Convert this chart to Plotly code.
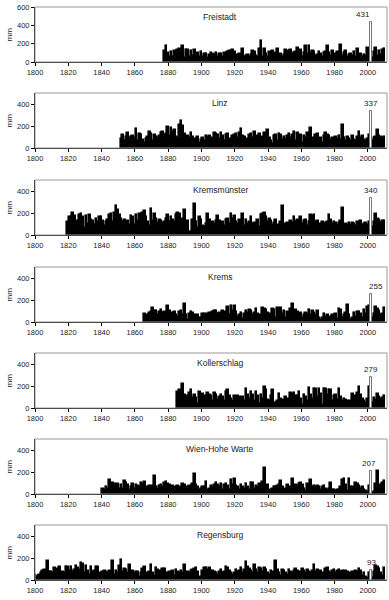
import plotly.graph_objects as go

stations = ["Freistadt", "Linz", "Kremsmünster", "Krems", "Kollerschlag", "Wien-Hohe Warte", "Regensburg"]
start_years = [1878, 1852, 1820, 1866, 1886, 1841, 1800]
highlight_year = 2002
y_max = [600, 500, 500, 500, 500, 500, 500]

freistadt = [120, 170,
    100, 60, 110, 50, 120, 80, 130, 140, 60, 180,
    40, 130, 130, 60, 120, 70, 130, 90, 100, 60,
    110, 50, 90, 90, 40, 80, 100, 90, 80, 100,
    60, 90, 90, 50, 100, 80, 110, 120, 60, 130,
    110, 50, 80, 90, 60, 140, 60, 70, 80, 60,
    80, 120, 110, 70, 50, 140, 230, 60, 140, 90,
    50, 110, 80, 120, 60, 100, 140, 60, 90, 50,
    80, 130, 120, 60, 130, 100, 80, 110, 150, 60,
    130, 60, 100, 170, 90, 170, 100, 120, 110, 70,
    80, 110, 90, 60, 100, 110, 180, 100, 70, 120,
    60, 90, 110, 80, 185, 70, 100, 120, 60, 80,
    90, 70, 110, 60, 140, 80, 90, 50, 80, 70,
    150, 80, 431, 40, 110, 150, 70, 120, 80, 130,
    140]

linz = [80, 120, 60, 100, 140, 90, 100, 110,
    90, 170, 60, 130, 120, 70, 50, 80, 100, 150,
    130, 60, 120, 100, 90, 110, 140, 150, 120, 130,
    195, 110, 180, 150, 160, 100, 90, 210, 245, 200,
    130, 30, 110, 90, 140, 100, 80, 60, 100, 50,
    70, 90, 60, 110, 100, 110, 70, 90, 140, 130,
    120, 80, 140, 110, 60, 120, 130, 80, 60, 110,
    120, 130, 90, 140, 175, 110, 100, 70, 80, 120,
    130, 90, 150, 60, 110, 130, 80, 100, 140, 110,
    160, 90, 60, 40, 110, 120, 60, 130, 120, 70,
    100, 80, 110, 130, 90, 120, 150, 60, 140, 110,
    120, 50, 110, 90, 140, 80, 185, 90, 70, 120,
    130, 70, 90, 50, 110, 140, 120, 110, 70, 90,
    60, 100, 80, 110, 70, 210, 90, 60, 100, 80,
    60, 110, 70, 60, 100, 150, 90, 110, 70, 60,
    80, 120, 337, 60, 90, 100, 160, 110, 100, 90,
    100]

kremsmuenster = [120, 160, 160, 200, 170, 100, 130, 180, 190, 160,
    60, 170, 100, 180, 140, 130, 90, 150, 120, 160,
    160, 130, 80, 120, 140, 180, 190, 120, 200, 260,
    230, 180, 150, 120, 140, 100, 130, 90, 170, 160,
    90, 180, 130, 190, 110, 200, 215, 160, 120, 80,
    235, 130, 190, 150, 110, 140, 130, 110, 120, 150,
    180, 120, 160, 140, 120, 180, 200, 190, 110, 150,
    230, 120, 130, 30, 30, 140, 280, 120, 60, 160,
    140, 80, 70, 100, 190, 140, 60, 120, 100, 130,
    170, 130, 100, 120, 80, 140, 150, 100, 190, 150,
    170, 120, 100, 140, 110, 190, 80, 140, 100, 120,
    160, 100, 110, 90, 140, 70, 180, 190, 200, 160,
    120, 150, 130, 90, 110, 140, 90, 60, 120, 260,
    40, 100, 110, 90, 130, 110, 160, 120, 140, 110,
    160, 100, 130, 140, 80, 120, 180, 170, 180, 120,
    130, 70, 100, 120, 90, 110, 120, 180, 140, 100,
    120, 110, 90, 110, 130, 245, 80, 100, 90, 110,
    90, 110, 100, 80, 120, 110, 130, 90, 100, 110,
    90, 120, 340, 70, 120, 190, 150, 140, 110, 130,
    130]

krems = [70, 40, 60, 80,
    90, 130, 100, 100, 60, 90, 110, 80, 90, 60,
    150, 100, 70, 80, 90, 60, 50, 90, 100, 60,
    160, 60, 20, 70, 90, 80, 60, 50, 60, 40,
    40, 70, 70, 30, 70, 80, 60, 90, 100, 100,
    70, 80, 60, 100, 90, 70, 140, 60, 150, 100,
    150, 90, 50, 60, 80, 30, 70, 100, 80, 110,
    100, 60, 80, 120, 70, 60, 50, 130, 120, 110,
    80, 70, 50, 120, 110, 40, 130, 120, 130, 70,
    100, 40, 90, 80, 120, 160, 70, 110, 90, 50,
    80, 40, 60, 80, 70, 110, 60, 100, 80, 60,
    100, 40, 20, 40, 70, 50, 60, 40, 50, 60,
    40, 70, 30, 120, 110, 40, 60, 80, 155, 60,
    20, 40, 80, 50, 90, 90, 70, 40, 110, 70,
    140, 145, 255, 40, 70, 135, 120, 100, 60, 70,
    130]

kollerschlag = [150, 160, 90, 215,
    120, 40, 110, 140, 160, 90, 120, 90, 40, 150,
    60, 130, 110, 60, 140, 120, 110, 60, 140, 120,
    70, 100, 120, 100, 60, 150, 160, 110, 80, 60,
    110, 40, 110, 100, 60, 100, 60, 170, 120, 80,
    150, 120, 60, 150, 110, 40, 120, 80, 190, 160,
    70, 60, 110, 160, 50, 50, 60, 130, 80, 70,
    60, 100, 80, 70, 140, 130, 140, 110, 110, 150,
    80, 30, 120, 100, 60, 185, 120, 80, 170, 170,
    100, 170, 130, 30, 175, 170, 120, 160, 160, 60,
    110, 120, 70, 170, 100, 60, 80, 70, 60, 50,
    60, 130, 70, 110, 140, 195, 120, 80, 60, 50,
    80, 190, 279, 50, 90, 70, 130, 100, 80, 90,
    110]

wien = [50, 40, 60, 50, 130, 60, 100, 90, 80,
    90, 50, 80, 50, 120, 100, 80, 40, 60, 90,
    50, 80, 70, 60, 100, 90, 110, 40, 60, 70,
    60, 70, 165, 60, 50, 70, 80, 60, 100, 110,
    90, 80, 50, 70, 60, 40, 70, 60, 30, 90,
    80, 20, 60, 70, 50, 90, 185, 80, 60, 40,
    50, 60, 60, 110, 40, 50, 70, 60, 80, 100,
    80, 60, 90, 40, 80, 90, 70, 40, 130, 80,
    135, 70, 60, 40, 80, 60, 50, 90, 60, 40,
    100, 100, 50, 70, 60, 90, 40, 110, 240, 70,
    80, 40, 30, 50, 60, 60, 70, 80, 120, 60,
    40, 50, 80, 40, 60, 140, 60, 80, 70, 90,
    100, 80, 50, 30, 90, 80, 130, 60, 70, 60,
    70, 60, 40, 60, 70, 50, 40, 50, 100, 40,
    40, 30, 40, 40, 60, 130, 135, 80, 30, 140,
    60, 60, 40, 100, 90, 70, 50, 60, 40, 30,
    20, 70, 207, 10, 20, 90, 210, 70, 80, 100,
    120]

regensburg = [50, 30, 40, 50, 60, 80, 90, 60, 170, 70,
    70, 60, 110, 60, 100, 120, 60, 70, 60, 120,
    120, 80, 120, 70, 90, 130, 110, 90, 155, 150,
    60, 130, 80, 50, 120, 70, 80, 120, 120, 60,
    30, 70, 80, 70, 60, 80, 70, 170, 50, 80,
    60, 130, 180, 70, 100, 90, 60, 140, 50, 80,
    60, 70, 70, 30, 60, 100, 120, 50, 60, 70,
    140, 60, 40, 110, 90, 80, 60, 100, 100, 50,
    60, 70, 30, 80, 40, 90, 70, 60, 80, 60,
    140, 50, 70, 60, 80, 90, 100, 110, 70, 30,
    10, 80, 110, 110, 90, 110, 80, 80, 70, 60,
    50, 70, 90, 60, 70, 120, 110, 80, 60, 50,
    60, 90, 70, 80, 110, 60, 90, 160, 120, 100,
    80, 60, 140, 90, 60, 110, 100, 70, 110, 90,
    60, 50, 80, 70, 60, 170, 90, 60, 40, 90,
    80, 60, 50, 90, 70, 60, 80, 100, 80, 60,
    70, 100, 80, 60, 90, 70, 60, 80, 135, 70,
    90, 60, 80, 60, 50, 100, 110, 70, 60, 80,
    90, 60, 80, 90, 70, 80, 60, 80, 70, 50,
    60, 70, 60, 80, 70, 100, 80, 40, 60, 30,
    20, 60, 93, 20, 70, 130, 120, 100, 60, 40,
    110]

series = [freistadt, linz, kremsmuenster, krems, kollerschlag, wien, regensburg]

# ---- layout geometry (pixels) ----
W, H = 389, 600
ML, MR = 35, 2
panel_tops = [7, 93, 180, 267, 353, 439, 525]
panel_h = 55
label_xshift = [-8, 0, 0, 5, 0, -2, 0]

FONT = "Liberation Sans, Arial, sans-serif"
fig = go.Figure()
layout = dict(
    width=W, height=H,
    margin=dict(l=ML, r=MR, t=0, b=0, pad=0),
    paper_bgcolor="white", plot_bgcolor="white",
    showlegend=False, bargap=0,
    font=dict(family=FONT, size=7.5, color="#222"),
)
annotations = []
shapes = []

for i, (name, y0, vals, ymx) in enumerate(zip(stations, start_years, series, y_max)):
    n = i + 1
    xa = "x" if n == 1 else f"x{n}"
    ya = "y" if n == 1 else f"y{n}"
    years = [y0 + k for k in range(len(vals))]
    # black bars (all but highlighted year)
    bx = [yr for yr in years if yr != highlight_year]
    by = [v for yr, v in zip(years, vals) if yr != highlight_year]
    fig.add_trace(go.Bar(
        x=bx, y=by, xaxis=xa, yaxis=ya,
        marker=dict(color="black", line=dict(color="black", width=1.6)),
        width=1, hoverinfo="x+y",
    ))
    hv = vals[years.index(highlight_year)]
    fig.add_trace(go.Bar(
        x=[highlight_year], y=[hv], xaxis=xa, yaxis=ya,
        marker=dict(color="white", line=dict(color="#777", width=1)),
        width=1, hoverinfo="x+y",
    ))
    top = panel_tops[i]
    dom = [1 - (top + panel_h) / H, 1 - top / H]
    layout[f"xaxis{'' if n == 1 else n}"] = dict(
        domain=[0, 1], anchor=ya, range=[1800, 2011.5],
        tickmode="linear", tick0=1800, dtick=20,
        ticks="outside", ticklen=3, tickwidth=1, tickcolor="black",
        showline=True, linecolor="black", linewidth=1,
        showgrid=False, zeroline=False, automargin=False,
        tickfont=dict(size=7.5, family=FONT, color="#222"),
    )
    layout[f"yaxis{'' if n == 1 else n}"] = dict(
        domain=dom, anchor=xa, range=[0, ymx],
        tickmode="linear", tick0=0, dtick=200,
        ticks="outside", ticklen=3, tickwidth=1, tickcolor="black",
        showline=True, linecolor="black", linewidth=1,
        showgrid=False, zeroline=False, automargin=False,
        tickfont=dict(size=7.5, family=FONT, color="#222"),
    )
    shapes.append(dict(type="rect", xref=f"{xa} domain", yref=f"{ya} domain",
                       x0=0, x1=1, y0=0, y1=1, line=dict(color="#999", width=1),
                       layer="above"))
    annotations.append(dict(text=name, xref=f"{xa} domain", yref=f"{ya} domain",
                            x=0.526, y=0.81, showarrow=False,
                            font=dict(size=8.5, family=FONT, color="#222"),
                            xanchor="center", yanchor="middle"))
    annotations.append(dict(text=str(hv), xref=xa, yref=ya, x=highlight_year, y=hv,
                            showarrow=False, yanchor="bottom", xanchor="center",
                            xshift=label_xshift[i], yshift=1,
                            font=dict(size=8, family=FONT, color="#222")))
    annotations.append(dict(text="mm", xref="paper", yref=f"{ya} domain",
                            x=(9 - ML) / (W - ML - MR), y=0.5, textangle=-90,
                            showarrow=False, xanchor="center", yanchor="middle",
                            font=dict(size=8, family=FONT, color="#222")))

layout["annotations"] = annotations
layout["shapes"] = shapes
layout["barmode"] = "overlay"
fig.update_layout(**layout)
fig.write_html("out.html", config={"displayModeBar": False},
               post_script="document.body.style.margin='0';document.body.style.overflow='hidden';")
